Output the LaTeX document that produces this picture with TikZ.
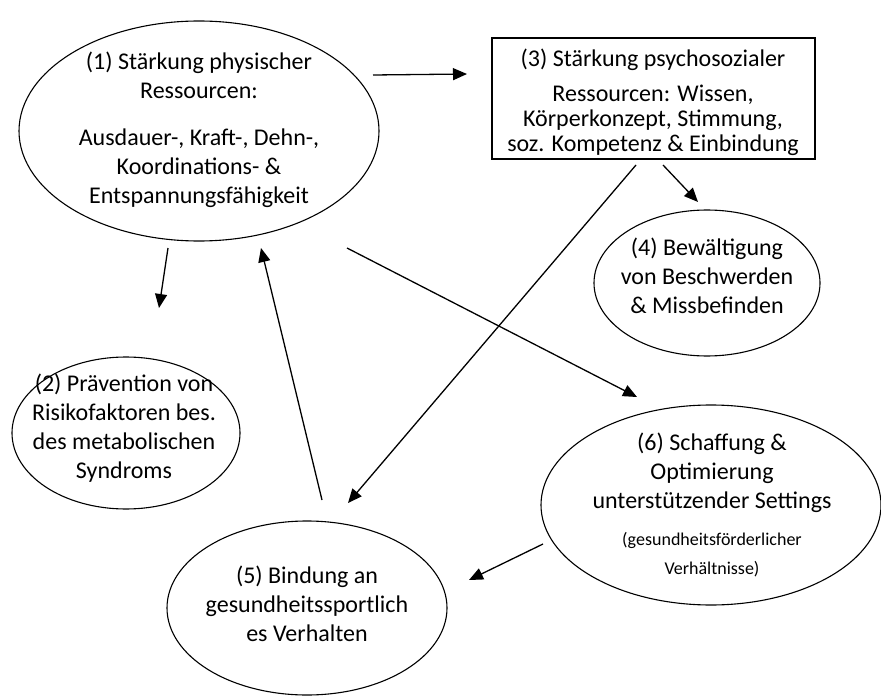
\documentclass[tikz,border=0pt]{standalone}
\usepackage{fontspec}
\setmainfont{Carlito}
\usetikzlibrary{arrows.meta,shapes.geometric}
\begin{document}
\begin{tikzpicture}[x=1pt,y=-1pt,
  oval/.style={draw, ellipse, line width=1.1pt, inner sep=0pt},
  frame/.style={draw, rectangle, line width=1.3pt, inner sep=0pt},
  lbl/.style={align=center, font=\fontsize{24}{29}\selectfont, inner sep=0pt},
  arr/.style={-{Triangle[length=14pt,width=12pt]}, line width=1.3pt}]
\useasboundingbox[fill=white] (0,0) rectangle (881,698);

% shapes
\node[oval, minimum width=360pt, minimum height=220pt] (e1) at (199,131) {};
\node[frame, minimum width=323pt, minimum height=121pt] (b3) at (653.5,98.5) {};
\node[oval, minimum width=226pt, minimum height=146pt] (e4) at (707,283) {};
\node[oval, minimum width=228pt, minimum height=152pt] (e2) at (126,433) {};
\node[oval, minimum width=340pt, minimum height=200pt] (e6) at (711,505) {};
\node[oval, minimum width=280pt, minimum height=174pt] (e5) at (307,608) {};

% texts
\node[lbl] (t1) at (199,130) {(1) Stärkung physischer\\ Ressourcen:\\[18pt] Ausdauer-, Kraft-, Dehn-,\\ Koordinations- \&\\ Entspannungsfähigkeit};
\node[lbl, font=\fontsize{24}{25}\selectfont] (t3) at (653,102) {(3) Stärkung psychosozialer\\[10pt] Ressourcen: Wissen,\\ Körperkonzept, Stimmung,\\ soz. Kompetenz \& Einbindung};
\node[lbl] (t4) at (707,276) {(4) Bewältigung\\ von Beschwerden\\ \& Missbefinden};
\node[lbl] (t2) at (124,428) {(2) Prävention von\\ Risikofaktoren bes.\\ des metabolischen\\ Syndroms};
\node[lbl] (t6) at (712,505) {(6) Schaffung \&\\ Optimierung\\ unterstützender Settings\\[8pt]
  {\fontsize{18}{23}\selectfont (gesundheitsförderlicher}\\ {\fontsize{18}{23}\selectfont Verhältnisse)}};
\node[lbl] (t5) at (307,604) {(5) Bindung an\\ gesundheitssportlich\\ es Verhalten};

% connector ends
\coordinate (a13s) at (373,75);  \coordinate (a13e) at (467,74);
\coordinate (a34s) at (663,165); \coordinate (a34e) at (698,202);
\coordinate (a35s) at (636,165); \coordinate (a35e) at (348,503);
\coordinate (a12s) at (168,248); \coordinate (a12e) at (159,308);
\coordinate (a51s) at (322,500); \coordinate (a51e) at (261,248);
\coordinate (a16s) at (347,248); \coordinate (a16e) at (637,397);
\coordinate (a65s) at (543,544); \coordinate (a65e) at (469,580);

\draw[arr] (a13s) -- (a13e);
\draw[arr] (a34s) -- (a34e);
\draw[arr] (a35s) -- (a35e);
\draw[arr] (a12s) -- (a12e);
\draw[arr] (a51s) -- (a51e);
\draw[arr] (a16s) -- (a16e);
\draw[arr] (a65s) -- (a65e);
\end{tikzpicture}
\end{document}
